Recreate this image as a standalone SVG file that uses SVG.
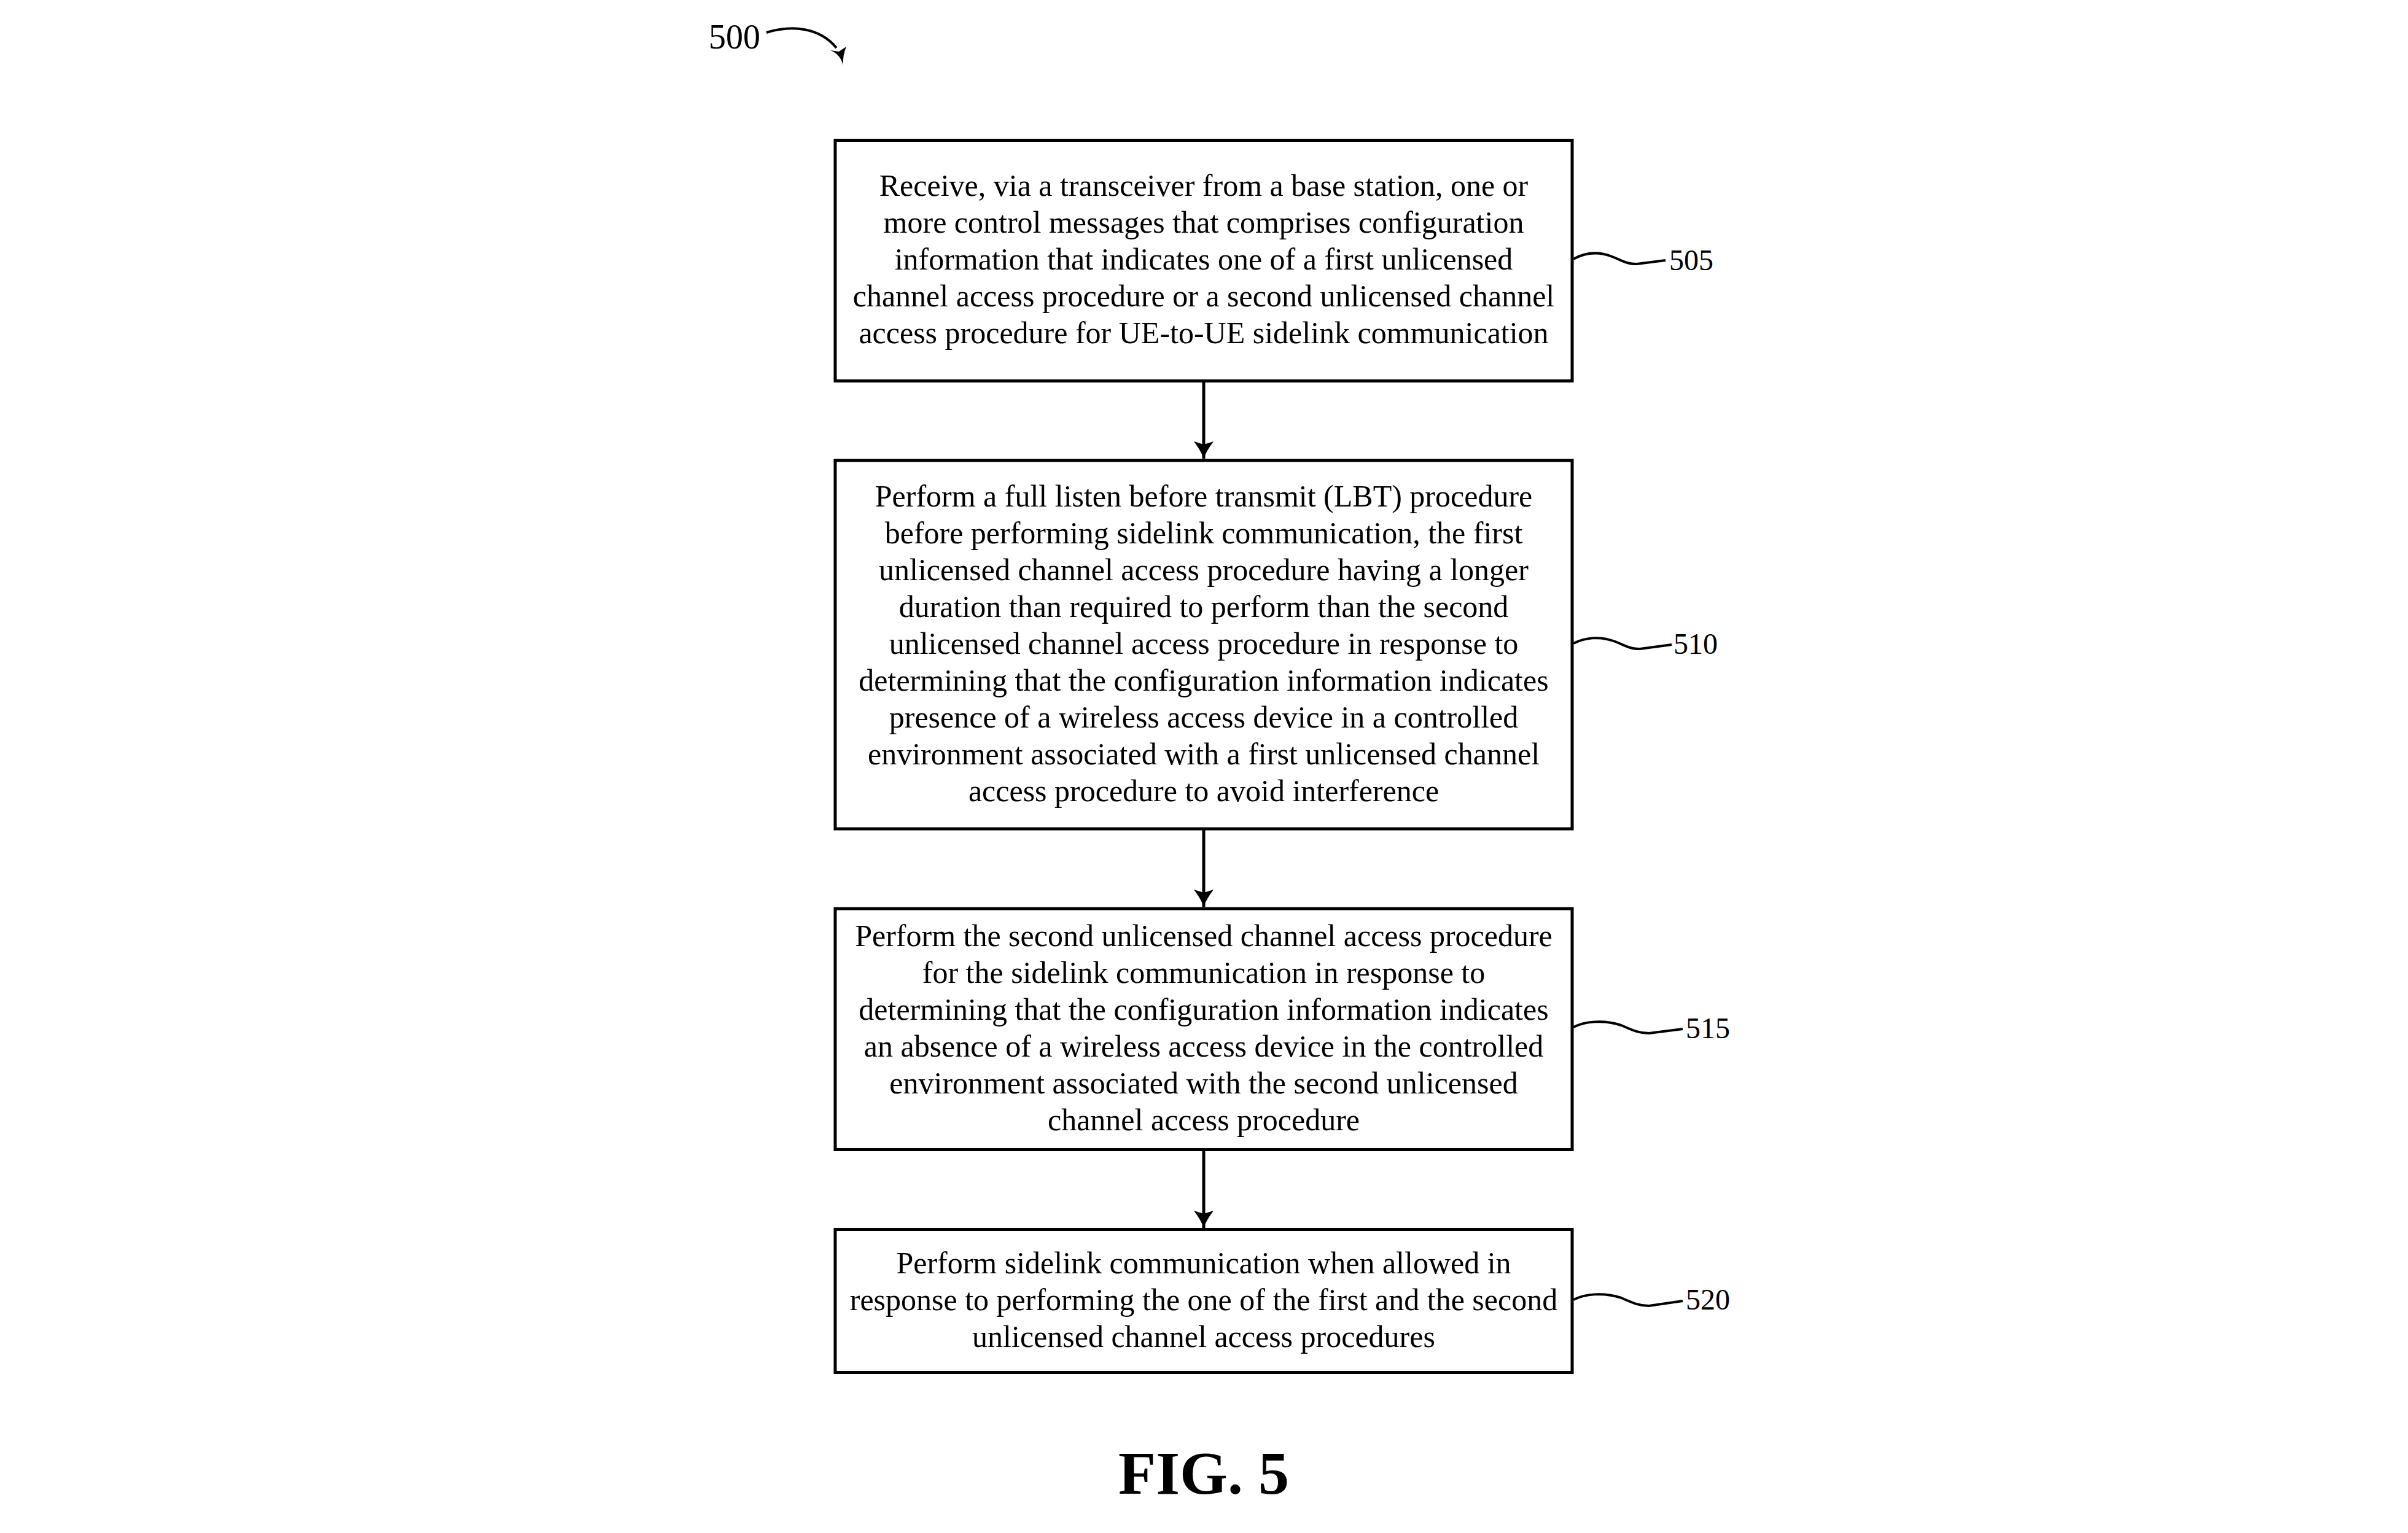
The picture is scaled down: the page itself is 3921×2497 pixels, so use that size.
<svg xmlns="http://www.w3.org/2000/svg" width="3921" height="2497" viewBox="0 0 3921 2497">
<style>
.box{fill:#fff;stroke:#000;stroke-width:5}
.t{font-family:"Liberation Serif","Times New Roman",serif;font-size:50px;fill:#000;text-anchor:middle}
.lbl{font-family:"Liberation Serif","Times New Roman",serif;font-size:48px;fill:#000}
.conn{stroke:#000;stroke-width:5;fill:none}
.lead{stroke:#000;stroke-width:4;fill:none}
</style>
<defs>
<marker id="ah" markerUnits="userSpaceOnUse" markerWidth="40" markerHeight="40" viewBox="-30 -20 32 40" refX="0" refY="0" orient="auto">
<path d="M0,0 Q-12,-4 -28,-16 L-23,0 L-28,16 Q-12,4 0,0 Z" fill="#000"/>
</marker>
</defs>
<rect width="3921" height="2497" fill="#fff"/>
<g id="fig-ref">
<text class="lbl" x="1154" y="79" style="font-size:56px">500</text>
<path class="lead" d="M1248,53 C1290,40 1335,45 1362,78" stroke-width="5"/>
<path d="M1373,106 Q1368,88 1352,82 L1366,84 L1378,76 Q1372,90 1373,106 Z" fill="#000"/>
</g>
<g id="node-505">
<rect class="box" x="1360" y="228.5" width="1200" height="392"/>
<text class="t" x="1960" y="319">Receive, via a transceiver from a base station, one or</text>
<text class="t" x="1960" y="379">more control messages that comprises configuration</text>
<text class="t" x="1960" y="439">information that indicates one of a first unlicensed</text>
<text class="t" x="1960" y="499">channel access procedure or a second unlicensed channel</text>
<text class="t" x="1960" y="559">access procedure for UE-to-UE sidelink communication</text>
<path class="lead" d="M2562,422 C2580,412 2600,408 2625,418 C2645,426 2650,430 2665,430 L2712,424"/>
<text class="lbl" x="2718" y="440">505</text>
</g>
<g id="node-510">
<rect class="box" x="1360" y="750" width="1200" height="600"/>
<text class="t" x="1960" y="825">Perform a full listen before transmit (LBT) procedure</text>
<text class="t" x="1960" y="885">before performing sidelink communication, the first</text>
<text class="t" x="1960" y="945">unlicensed channel access procedure having a longer</text>
<text class="t" x="1960" y="1005">duration than required to perform than the second</text>
<text class="t" x="1960" y="1065">unlicensed channel access procedure in response to</text>
<text class="t" x="1960" y="1125">determining that the configuration information indicates</text>
<text class="t" x="1960" y="1185">presence of a wireless access device in a controlled</text>
<text class="t" x="1960" y="1245">environment associated with a first unlicensed channel</text>
<text class="t" x="1960" y="1305">access procedure to avoid interference</text>
<path class="lead" d="M2562,1048 C2580,1039 2605,1035 2630,1045 C2650,1053 2655,1057 2670,1057 L2722,1050"/>
<text class="lbl" x="2725" y="1065">510</text>
</g>
<g id="node-515">
<rect class="box" x="1360" y="1480" width="1200" height="392.5"/>
<text class="t" x="1960" y="1541">Perform the second unlicensed channel access procedure</text>
<text class="t" x="1960" y="1601">for the sidelink communication in response to</text>
<text class="t" x="1960" y="1661">determining that the configuration information indicates</text>
<text class="t" x="1960" y="1721">an absence of a wireless access device in the controlled</text>
<text class="t" x="1960" y="1781">environment associated with the second unlicensed</text>
<text class="t" x="1960" y="1841">channel access procedure</text>
<path class="lead" d="M2562,1673 C2580,1664 2610,1660 2640,1670 C2660,1679 2670,1683 2685,1683 L2740,1676"/>
<text class="lbl" x="2745" y="1691">515</text>
</g>
<g id="node-520">
<rect class="box" x="1360" y="2002.5" width="1200" height="233"/>
<text class="t" x="1960" y="2074">Perform sidelink communication when allowed in</text>
<text class="t" x="1960" y="2134">response to performing the one of the first and the second</text>
<text class="t" x="1960" y="2194">unlicensed channel access procedures</text>
<path class="lead" d="M2562,2117 C2580,2108 2610,2104 2640,2114 C2660,2123 2670,2127 2685,2127 L2740,2119"/>
<text class="lbl" x="2745" y="2133">520</text>
</g>
<g id="connectors">
<line class="conn" x1="1960" y1="623" x2="1960" y2="747" marker-end="url(#ah)"/>
<line class="conn" x1="1960" y1="1352" x2="1960" y2="1477" marker-end="url(#ah)"/>
<line class="conn" x1="1960" y1="1875" x2="1960" y2="2000" marker-end="url(#ah)"/>
</g>
<text x="1960" y="2433" style="font-family:'Liberation Serif','Times New Roman',serif;font-size:100px;font-weight:bold;text-anchor:middle">FIG. 5</text>
</svg>
